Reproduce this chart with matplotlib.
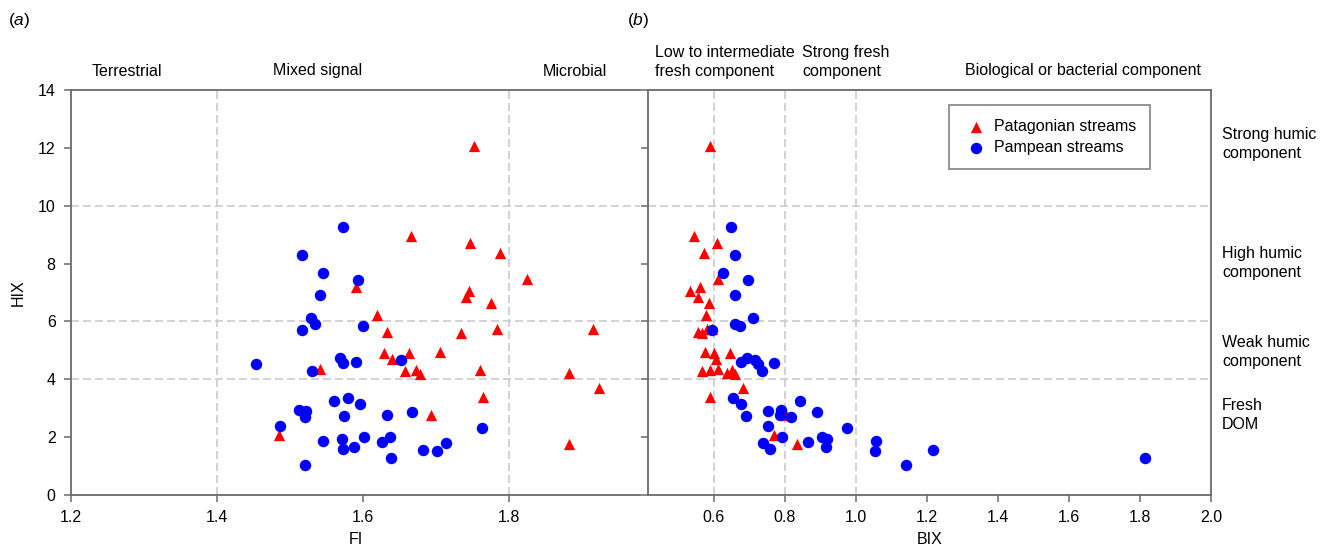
import matplotlib
matplotlib.use("Agg")
import matplotlib.pyplot as plt

plt.rcParams["font.family"] = ["Liberation Sans", "DejaVu Sans"]
plt.rcParams["mathtext.fontset"] = "custom"
plt.rcParams["mathtext.it"] = "Liberation Sans:italic"
plt.rcParams["mathtext.rm"] = "Liberation Sans"

# Patagonian streams (red triangles): HIX, FI, BIX
pat_hix = [12.06, 8.94, 8.72, 8.38, 7.46, 7.20, 7.06, 6.86, 6.62, 6.22,
           5.75, 5.74, 5.63, 5.60, 4.96, 4.92, 4.92, 4.71, 4.34, 4.33,
           4.31, 4.27, 4.23, 4.19, 3.70, 3.39, 2.76, 2.06, 1.78]
pat_fi = [1.753, 1.666, 1.747, 1.788, 1.825, 1.591, 1.746, 1.741, 1.776, 1.620,
          1.916, 1.784, 1.633, 1.735, 1.706, 1.629, 1.663, 1.640, 1.542, 1.673,
          1.761, 1.658, 1.883, 1.678, 1.924, 1.765, 1.693, 1.485, 1.883]
pat_bix = [0.589, 0.545, 0.610, 0.572, 0.612, 0.561, 0.533, 0.556, 0.587, 0.579,
           0.580, 0.595, 0.556, 0.568, 0.575, 0.600, 0.647, 0.606, 0.612, 0.589,
           0.652, 0.567, 0.636, 0.659, 0.682, 0.589, 0.803, 0.769, 0.835]

# Pampean streams (blue circles): HIX, FI, BIX
pam_hix = [9.25, 8.28, 7.66, 7.42, 6.90, 6.11, 5.92, 5.85, 5.72, 4.74,
           4.65, 4.59, 4.57, 4.54, 4.30, 3.37, 3.26, 3.14, 2.95, 2.90,
           2.88, 2.77, 2.73, 2.71, 2.40, 2.31, 2.02, 2.00, 1.94, 1.85,
           1.83, 1.80, 1.66, 1.59, 1.57, 1.53, 1.28, 1.03]
pam_fi = [1.5725, 1.516, 1.546, 1.593, 1.542, 1.5295, 1.5345, 1.600, 1.516, 1.569,
          1.652, 1.590, 1.5735, 1.453, 1.531, 1.580, 1.561, 1.596, 1.5125, 1.522,
          1.667, 1.633, 1.574, 1.521, 1.487, 1.764, 1.601, 1.637, 1.571, 1.546,
          1.627, 1.714, 1.588, 1.573, 1.683, 1.702, 1.6385, 1.521]
pam_bix = [0.648, 0.661, 0.625, 0.696, 0.661, 0.712, 0.661, 0.675, 0.594, 0.694,
           0.7175, 0.6775, 0.771, 0.724, 0.735, 0.654, 0.843, 0.678, 0.790, 0.752,
           0.890, 0.787, 0.6895, 0.817, 0.752, 0.976, 0.904, 0.792, 0.918, 1.057,
           0.865, 0.740, 0.915, 0.759, 1.218, 1.055, 1.814, 1.142]

fi_ticks = [1.2, 1.4, 1.6, 1.8]
bix_ticks = [0.6, 0.8, 1.0, 1.2, 1.4, 1.6, 1.8, 2.0]
hix_ticks = [0, 2, 4, 6, 8, 10, 12, 14]
hix_lines = [4, 6, 10]
fi_lines = [1.4, 1.8]
bix_lines = [0.6, 0.8, 1.0]

W, H = 1325, 552
fig = plt.figure(figsize=(W / 100, H / 100), dpi=100)


def fx(px):
    return px / W


def fy(py):
    return 1 - py / H


ax1 = fig.add_axes([fx(71), fy(495), fx(640) - fx(71), fy(90) - fy(495)])
ax2 = fig.add_axes([fx(648), fy(495), fx(1211) - fx(648), fy(90) - fy(495)])

spine_col = "#6a6a6a"
grid_kw = dict(color="#c9c9d2", lw=1.2, dashes=(4.8, 2.4), zorder=0)
red_kw = dict(marker="^", color="#ff0000", s=66, linewidths=0, zorder=3)
blue_kw = dict(marker="o", color="#0000ff", s=68, linewidths=0, zorder=3)

for ax in (ax1, ax2):
    ax.set_ylim(0, 14)
    ax.set_yticks(hix_ticks)
    for y in hix_lines:
        ax.axhline(y, **grid_kw)
    for s in ax.spines.values():
        s.set_color(spine_col)
        s.set_linewidth(1.3)
    ax.tick_params(direction="out", length=5, width=1.1, color=spine_col,
                   labelsize=11.5, pad=6)

ax1.set_xlim(1.2, 1.98)
ax1.set_xticks(fi_ticks)
ax1.set_xticklabels([f"{t:.1f}" for t in fi_ticks])
ax1.spines["right"].set_visible(False)
for x in fi_lines:
    ax1.axvline(x, **grid_kw)
ax1.scatter(pat_fi, pat_hix, **red_kw)
ax1.scatter(pam_fi, pam_hix, **blue_kw)
ax1.set_xlabel("FI", fontsize=11.5, va="center")
ax1.xaxis.set_label_coords(0.5, (495 - 540) / 405)
ax1.set_ylabel("HIX", fontsize=11.5, va="center")
ax1.yaxis.set_label_coords((18 - 71) / 569, 0.5)

ax2.set_xlim(0.415, 2.0)
ax2.set_xticks(bix_ticks)
ax2.set_xticklabels([f"{t:.1f}" for t in bix_ticks])
ax2.tick_params(axis="y", labelleft=False)
for x in bix_lines:
    ax2.axvline(x, **grid_kw)
ax2.scatter(pat_bix, pat_hix, label="Patagonian streams", **red_kw)
ax2.scatter(pam_bix, pam_hix, label="Pampean streams", **blue_kw)
ax2.set_xlabel("BIX", fontsize=11.5, va="center")
ax2.xaxis.set_label_coords((930 - 648) / 563, (495 - 540) / 405)

leg = ax2.legend(loc="upper left", bbox_to_anchor=(fx(949), fy(105)),
                 bbox_transform=fig.transFigure, borderaxespad=0,
                 fancybox=False, fontsize=11.5, handletextpad=0.3,
                 borderpad=0.9, labelspacing=0.35, scatterpoints=1,
                 handlelength=1.6)
leg.get_frame().set_edgecolor("#707070")
leg.get_frame().set_linewidth(1.3)

tkw = dict(fontsize=11.5, va="center")
fig.text(fx(8), fy(20), r"($\mathit{a}$)", ha="left", fontsize=12.5, va="center")
fig.text(fx(627), fy(20), r"($\mathit{b}$)", ha="left", fontsize=12.5, va="center")
fig.text(fx(127), fy(71), "Terrestrial", ha="center", **tkw)
fig.text(fx(318), fy(71), "Mixed signal", ha="center", **tkw)
fig.text(fx(575), fy(71), "Microbial", ha="center", **tkw)
fig.text(fx(655), fy(62), "Low to intermediate\nfresh component", ha="left",
         linespacing=1.35, **tkw)
fig.text(fx(802), fy(62), "Strong fresh\ncomponent", ha="left",
         linespacing=1.35, **tkw)
fig.text(fx(1083), fy(71), "Biological or bacterial component", ha="center", **tkw)

side = [("Strong humic\ncomponent", 144), ("High humic\ncomponent", 263),
        ("Weak humic\ncomponent", 352), ("Fresh\nDOM", 415)]
for txt, py in side:
    fig.text(fx(1222), fy(py), txt, ha="left", linespacing=1.35, **tkw)

fig.savefig("out.png", dpi=100)
